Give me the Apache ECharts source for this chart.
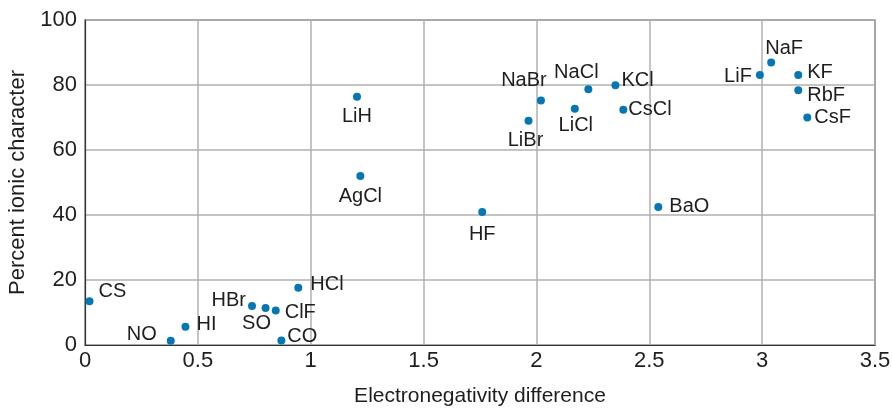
<!DOCTYPE html>
<html>
<head>
<meta charset="utf-8">
<script src="https://cdn.jsdelivr.net/npm/echarts@6/dist/echarts.min.js"></script>
<style>
  html, body { margin: 0; padding: 0; background: #fff; }
  #chart { width: 892px; height: 408px; }
</style>
</head>
<body>
<div id="chart"></div>
<script>
// Compounds, their electronegativity difference and percent ionic character
const compounds = ['CS', 'NO', 'HI', 'HBr', 'SO', 'ClF', 'CO', 'HCl', 'LiH', 'AgCl', 'HF',
  'LiBr', 'NaBr', 'LiCl', 'NaCl', 'KCl', 'CsCl', 'BaO', 'LiF', 'NaF', 'KF', 'RbF', 'CsF'];
const electronegativityDiff = [0.02, 0.38, 0.445, 0.74, 0.80, 0.845, 0.87, 0.945, 1.205, 1.22, 1.76,
  1.965, 2.02, 2.17, 2.23, 2.35, 2.385, 2.54, 2.99, 3.04, 3.16, 3.16, 3.20];
const percentIonic = [13.5, 1.3, 5.6, 12.0, 11.4, 10.6, 1.4, 17.6, 76.4, 52.0, 40.9,
  69.0, 75.2, 72.7, 78.7, 79.9, 72.4, 42.5, 83.1, 86.9, 83.1, 78.4, 70.0];

const xTicks = [0, 0.5, 1, 1.5, 2, 2.5, 3, 3.5];
const yTicks = [0, 20, 40, 60, 80, 100];

// Where each compound's name sits relative to its dot
const labelPlacement = {
  CS:   { position: 'right',  distance: 5, offset: [0, -10] },
  NO:   { position: 'left',   distance: 10, offset: [0, -6] },
  HI:   { position: 'right',  distance: 7, offset: [0, -2] },
  HBr:  { position: 'left',   distance: 2, offset: [0, -6] },
  SO:   { position: 'bottom', distance: 3, offset: [-9, -1] },
  ClF:  { position: 'right',  distance: 5, offset: [0, 2] },
  CO:   { position: 'right',  distance: 2, offset: [0, -4] },
  HCl:  { position: 'right',  distance: 8, offset: [0, -3] },
  LiH:  { position: 'bottom', distance: 6, offset: [0, 0] },
  AgCl: { position: 'bottom', distance: 6, offset: [0, 0] },
  HF:   { position: 'bottom', distance: 8, offset: [0, 0] },
  LiBr: { position: 'bottom', distance: 6, offset: [-3, 0] },
  NaBr: { position: 'top',    distance: 2, offset: [-17, -4] },
  LiCl: { position: 'bottom', distance: 3, offset: [1, 0] },
  NaCl: { position: 'top',    distance: 2, offset: [-12, -1] },
  KCl:  { position: 'right',  distance: 2, offset: [0, -5] },
  CsCl: { position: 'right',  distance: 1, offset: [0, 0] },
  BaO:  { position: 'right',  distance: 7, offset: [0, 0] },
  LiF:  { position: 'left',   distance: 4, offset: [0, 2] },
  NaF:  { position: 'top',    distance: 2, offset: [13, 2] },
  KF:   { position: 'right',  distance: 5, offset: [0, -2] },
  RbF:  { position: 'right',  distance: 5, offset: [0, 5] },
  CsF:  { position: 'right',  distance: 3, offset: [0, 0] }
};

const FONT = '"Liberation Sans", Arial, sans-serif';
const TEXT = '#1e1e1e';

const points = compounds.map((name, i) => ({
  name: name,
  value: [electronegativityDiff[i], percentIonic[i]],
  label: Object.assign({ show: true }, labelPlacement[name])
}));

const chart = echarts.init(document.getElementById('chart'), null, { renderer: 'canvas' });
chart.setOption({
  animation: false,
  backgroundColor: '#ffffff',
  grid: {
    left: 85, right: 17, top: 20, bottom: 63,
    show: true, borderColor: '#333333', borderWidth: 1.2,
    containLabel: false, outerBoundsMode: 'none'
  },
  xAxis: {
    type: 'value',
    min: xTicks[0], max: xTicks[xTicks.length - 1], interval: 0.5,
    name: 'Electronegativity difference',
    nameLocation: 'middle', nameGap: 41,
    nameTextStyle: { fontFamily: FONT, fontSize: 21, color: TEXT },
    axisLine: { show: true, lineStyle: { color: '#333333', width: 1.2 } },
    axisTick: { show: false },
    axisLabel: { fontFamily: FONT, fontSize: 22, color: TEXT, margin: 5,
      formatter: v => String(v) },
    splitLine: { show: true, lineStyle: { color: '#b0b0b0', width: 1.5 } }
  },
  yAxis: {
    type: 'value',
    min: yTicks[0], max: yTicks[yTicks.length - 1], interval: 20,
    name: 'Percent ionic character',
    nameLocation: 'middle', nameGap: 55,
    nameTextStyle: { fontFamily: FONT, fontSize: 22, color: TEXT },
    axisLine: { show: true, lineStyle: { color: '#333333', width: 1.2 } },
    axisTick: { show: false },
    axisLabel: { fontFamily: FONT, fontSize: 22, color: TEXT, margin: 8 },
    splitLine: { show: true, lineStyle: { color: '#b0b0b0', width: 1.5 } }
  },
  series: [{
    type: 'scatter',
    symbol: 'circle',
    symbolSize: 8,
    itemStyle: { color: '#0a76b0', opacity: 1 },
    label: {
      show: true,
      formatter: p => p.name,
      fontFamily: FONT, fontSize: 20, color: TEXT
    },
    emphasis: { disabled: true },
    data: points
  }]
});
</script>
</body>
</html>
